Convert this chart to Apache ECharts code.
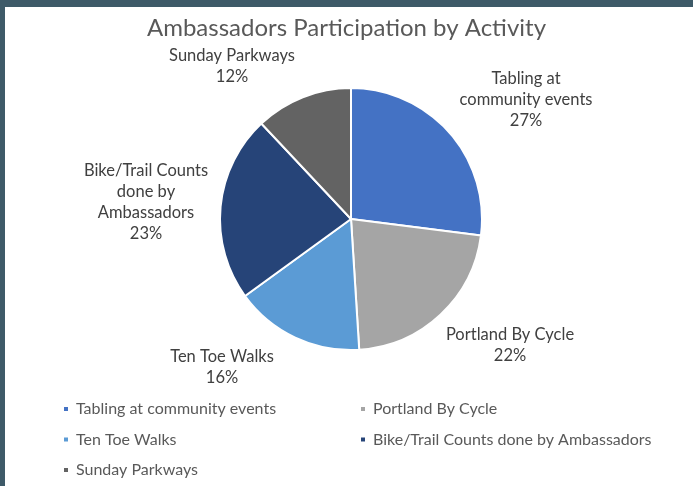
<!DOCTYPE html>
<html>
<head>
<meta charset="utf-8">
<script src="https://cdn.jsdelivr.net/npm/echarts@6/dist/echarts.min.js"></script>
<style>
html, body { margin: 0; padding: 0; background: #fff; }
#chart { width: 693px; height: 486px; }
</style>
</head>
<body>
<div id="chart"></div>
<script>
// slice data, clockwise from 12 o'clock
var categories = ['Tabling at community events', 'Portland By Cycle', 'Ten Toe Walks', 'Bike/Trail Counts done by Ambassadors', 'Sunday Parkways'];
var labelNames = ['Tabling at\ncommunity events', 'Portland By Cycle', 'Ten Toe Walks', 'Bike/Trail Counts\ndone by\nAmbassadors', 'Sunday Parkways'];
var shares = [27, 22, 16, 23, 12];
var colors = ['#4472c4', '#a5a5a5', '#5b9bd5', '#264478', '#636363'];

// label centres (like excel "best fit")
var labelPos = [[526, 100], [510, 345], [222, 367], [146, 202], [232, 66]];

var font = 'Lato, "Open Sans", sans-serif';

var chart = echarts.init(document.getElementById('chart'));
chart.setOption({
  backgroundColor: '#fff',
  animation: false,
  title: {
    text: 'Ambassadors Participation by Activity',
    left: 'center',
    top: 11,
    textStyle: { fontFamily: font, fontSize: 24, fontWeight: 'normal', color: '#595959' }
  },
  graphic: [
    { type: 'rect', shape: { x: 0, y: 0, width: 693, height: 7 }, style: { fill: '#3e5a68' } },
    { type: 'rect', shape: { x: 0, y: 0, width: 5, height: 486 }, style: { fill: '#3e5a68' } }
  ],
  legend: [{
    orient: 'vertical',
    left: 62,
    top: 400,
    padding: 0,
    icon: 'rect',
    itemWidth: 6,
    itemHeight: 6,
    itemGap: 12.5,
    data: [categories[0], categories[2], categories[4]],
    textStyle: { fontFamily: font, fontSize: 16, color: '#595959', lineHeight: 18, padding: [0, 0, 0, 2] }
  }, {
    orient: 'vertical',
    left: 359,
    top: 400,
    padding: 0,
    icon: 'rect',
    itemWidth: 6,
    itemHeight: 6,
    itemGap: 12.5,
    data: [categories[1], categories[3]],
    textStyle: { fontFamily: font, fontSize: 16, color: '#595959', lineHeight: 18, padding: [0, 0, 0, 2] }
  }],
  series: [{
    type: 'pie',
    center: [351, 219],
    radius: 131,
    startAngle: 90,
    clockwise: true,
    percentPrecision: 0,
    itemStyle: { borderColor: '#fff', borderWidth: 2 },
    label: {
      show: true,
      position: 'outside',
      fontFamily: font,
      fontSize: 16.5,
      lineHeight: 21,
      color: '#404040',
      align: 'center',
      formatter: function (p) { return labelNames[p.dataIndex] + '\n' + p.percent + '%'; }
    },
    labelLine: { show: false },
    labelLayout: function (p) {
      var c = labelPos[p.dataIndex];
      return { x: c[0], y: c[1], align: 'center', verticalAlign: 'middle' };
    },
    data: categories.map(function (name, i) {
      return { name: name, value: shares[i], itemStyle: { color: colors[i] } };
    })
  }]
});
</script>
</body>
</html>
